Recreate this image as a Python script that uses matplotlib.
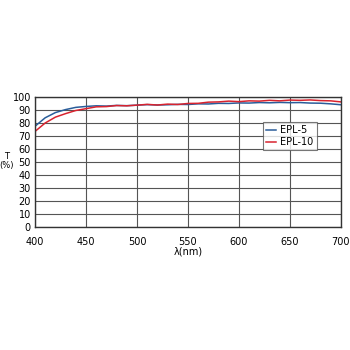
import numpy as np
from matplotlib import pyplot as plt

wavelength = [400, 410, 420, 430, 440, 450, 460, 470, 480, 490, 500, 510, 520, 530, 540, 550,
              560, 570, 580, 590, 600, 610, 620, 630, 640, 650, 660, 670, 680, 690, 700]
epl5 = [77.5, 84.0, 88.0, 90.3, 92.0, 92.7, 93.2, 93.0, 93.5, 93.3, 93.7, 94.1, 93.8, 94.0, 94.3, 94.2,
        94.7, 94.6, 95.1, 95.0, 95.4, 95.3, 95.7, 95.5, 95.8, 95.6, 95.7, 95.3, 95.2, 94.7, 94.0]
epl10 = [73.5, 80.0, 84.5, 87.2, 89.6, 91.0, 92.4, 92.6, 93.4, 93.2, 93.7, 94.3, 93.8, 94.5, 94.2, 95.0,
         95.1, 96.0, 96.2, 96.8, 96.4, 97.0, 96.8, 97.4, 97.0, 97.6, 97.4, 97.7, 97.2, 97.0, 96.2]

fig = plt.figure(figsize=(3.5, 3.5), dpi=100)
ax = fig.add_axes([0.1, 0.351, 0.874, 0.372])

ax.plot(wavelength, epl5, color='#2a5d9a', lw=1.1, label='EPL-5')
ax.plot(wavelength, epl10, color='#d8232f', lw=1.1, label='EPL-10')

ax.set_xlim(400, 700)
ax.set_ylim(0, 100)
ax.set_xticks(np.arange(400, 701, 50))
ax.set_yticks(np.arange(0, 101, 10))
ax.grid(True, color='#555555', lw=0.8)
ax.tick_params(axis='y', length=0, labelsize=7, pad=3)
ax.tick_params(axis='x', length=0, labelsize=7, pad=7)
for s in ax.spines.values():
    s.set_color('#333333')
    s.set_linewidth(1.0)

ax.set_xlabel('λ(nm)', fontsize=7, labelpad=0)
ax.text(0.018, 0.54, 'T\n(%)', transform=fig.transFigure, fontsize=6, ha='center', va='center',
        linespacing=0.9)

leg = ax.legend(loc='center left', bbox_to_anchor=(0.745, 0.7), fontsize=7, frameon=True,
                fancybox=False, edgecolor='#555555', handlelength=1.0, handletextpad=0.5,
                borderpad=0.3, labelspacing=0.2, borderaxespad=0)
leg.get_frame().set_linewidth(0.8)

fig.savefig('out.png', dpi=100)
